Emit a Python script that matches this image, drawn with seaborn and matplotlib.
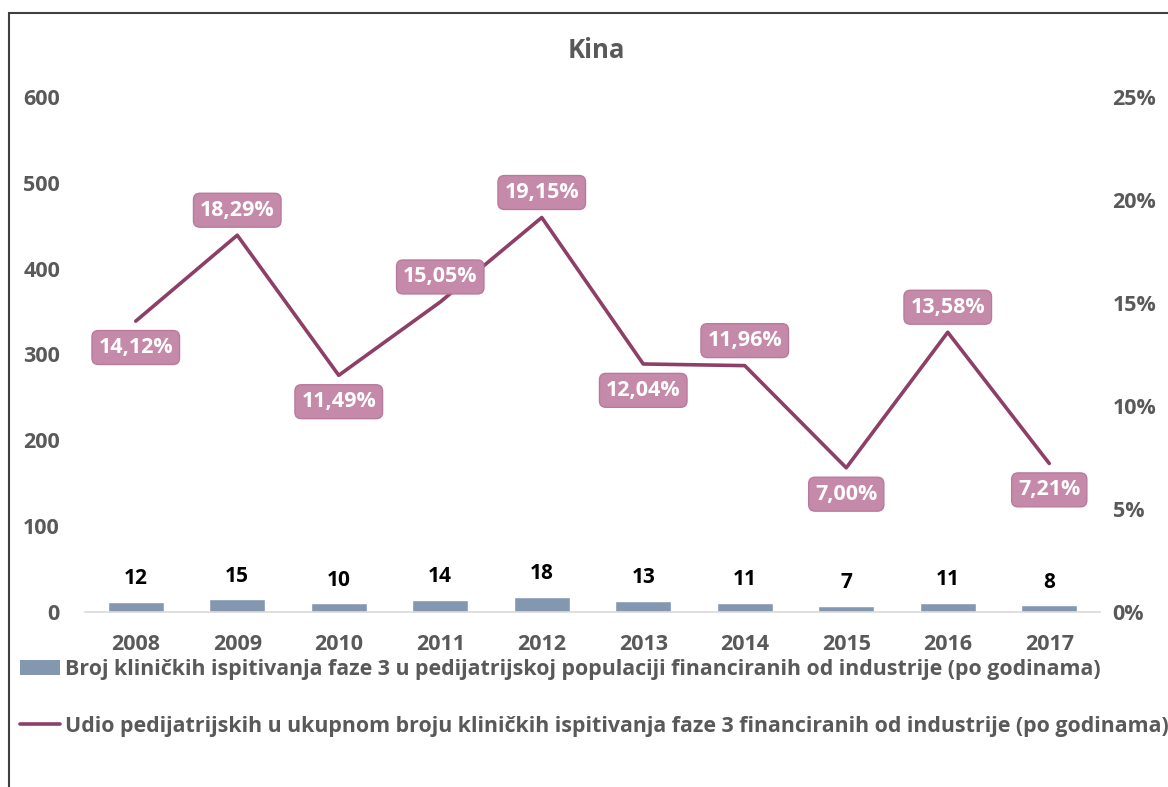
import numpy as np
import pandas as pd
import matplotlib
matplotlib.use("Agg")
import matplotlib.pyplot as plt
from matplotlib.patches import Rectangle, Patch
from matplotlib.lines import Line2D
import seaborn as sns

years = ["2008", "2009", "2010", "2011", "2012", "2013", "2014", "2015", "2016", "2017"]
trials = [12, 15, 10, 14, 18, 13, 11, 7, 11, 8]
share = [14.12, 18.29, 11.49, 15.05, 19.15, 12.04, 11.96, 7.00, 13.58, 7.21]
label_side = ["below", "above", "below", "above", "above", "below", "above", "below", "above", "below"]

bar_name = "Broj kliničkih ispitivanja faze 3 u pedijatrijskoj populaciji financiranih od industrije (po godinama)"
line_name = "Udio pedijatrijskih u ukupnom broju kliničkih ispitivanja faze 3 financiranih od industrije (po godinama)"

sns.set_theme(style="white")
plt.rcParams["font.family"] = ["Open Sans", "DejaVu Sans"]
plt.rcParams["font.weight"] = "bold"

grey = "#595959"
bar_col = "#8497b0"
line_col = "#8e3f68"
box_col = "#c58aa9"

df = pd.DataFrame({"year": years, "trials": trials, "share": share})

fig = plt.figure(figsize=(11.68, 7.87), dpi=100)
ax = fig.add_axes([85 / 1168, 1 - 612 / 787, 1015 / 1168, 515 / 787])

sns.barplot(data=df, x="year", y="trials", color=bar_col, width=0.55, saturation=1, ax=ax)
ax.set_ylim(0, 600)
ax.set_xlim(-0.5, 9.5)
ax.set_yticks(range(0, 601, 100))
ax.set_xlabel("")
ax.set_ylabel("")
for i, v in enumerate(trials):
    ax.annotate(str(v), (i, v), xytext=(0, 9), textcoords="offset points",
                ha="center", va="bottom", fontsize=15, fontweight="bold", color="black")

ax2 = ax.twinx()
sns.lineplot(x=np.arange(len(years)), y=df["share"], color=line_col, linewidth=2.6, ax=ax2)
ax2.set_ylim(0, 25)
ax2.set_yticks(range(0, 26, 5))
ax2.set_yticklabels([f"{t}%" for t in range(0, 26, 5)])
ax2.set_ylabel("")
for i, v in enumerate(share):
    dy = 18 if label_side[i] == "above" else -19
    ax2.annotate(f"{v:.2f}%".replace(".", ","), (i, v), xytext=(0, dy), textcoords="offset points",
                 ha="center", va="center", fontsize=15.5, fontweight="bold", color="white",
                 bbox=dict(boxstyle="round,pad=0.3,rounding_size=0.3", fc=box_col, ec="#b87a9c", lw=1))

for a in (ax, ax2):
    for s in a.spines.values():
        s.set_visible(False)
ax.spines["bottom"].set_visible(True)
ax.spines["bottom"].set_color("#d9d9d9")
ax.spines["bottom"].set_linewidth(1.2)
ax.tick_params(axis="y", length=0, pad=18, labelsize=15.5, labelcolor=grey)
ax.tick_params(axis="x", length=0, pad=16, labelsize=15.5, labelcolor=grey)
ax2.tick_params(axis="y", length=0, pad=9, labelsize=15.5, labelcolor=grey)
for lab in ax.get_xticklabels() + ax.get_yticklabels() + ax2.get_yticklabels():
    lab.set_fontweight("bold")

fig.text(596 / 1168, 1 - 50 / 787, "Kina", ha="center", va="center",
         fontsize=18.5, fontweight="bold", color=grey)

handles = [Patch(facecolor=bar_col, edgecolor="none"), Line2D([0], [0], color=line_col, lw=2.6)]
leg = fig.legend(handles, [bar_name, line_name], loc="upper left",
                 bbox_to_anchor=(20 / 1168, 1 - 659 / 787), frameon=False,
                 fontsize=15.4, labelcolor=grey, handlelength=1.85, handletextpad=0.25,
                 labelspacing=1.68, borderaxespad=0, borderpad=0)
for t in leg.get_texts():
    t.set_fontweight("bold")

fig.patches.append(Rectangle((9 / 1168, -0.1), 1.2, 1.1 - 13 / 787, transform=fig.transFigure,
                             fill=False, edgecolor="#404040", linewidth=1.5))

fig.savefig("out.png", dpi=100)
